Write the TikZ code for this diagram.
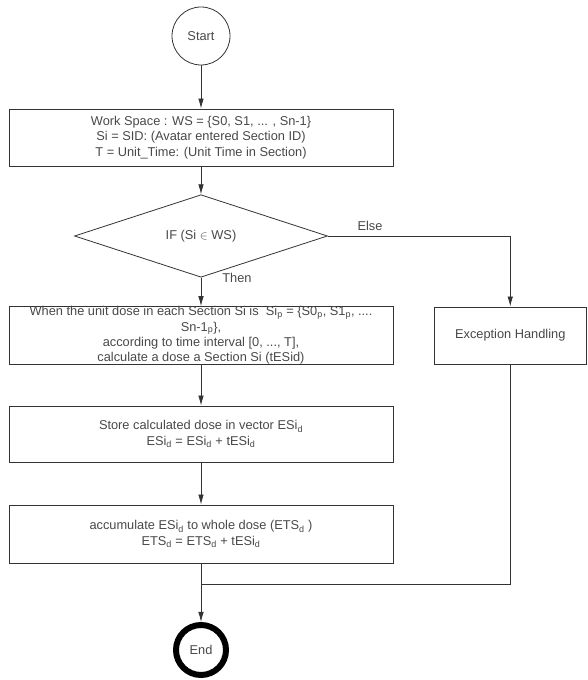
\documentclass[tikz,border=0pt]{standalone}
\usepackage{fontspec}
\setmainfont{Liberation Sans}
\usetikzlibrary{shapes.geometric}
\usetikzlibrary{arrows.meta}
\definecolor{txtgray}{HTML}{484848}
\definecolor{linegray}{HTML}{333333}
\newcommand{\dsub}{\textsubscript{d}}
\newcommand{\psub}{\textsubscript{p}}

\begin{document}
\begin{tikzpicture}[x=1pt,y=1pt,
    font=\fontsize{12.8}{15.3}\selectfont,
    every node/.style={text=txtgray},
    box/.style={draw=linegray, line width=0.8pt, rectangle, minimum width=384pt, minimum height=57pt, inner sep=0pt, align=center},
    flow/.style={draw=linegray, line width=0.8pt, -{Latex[length=10pt,width=5.5pt]}},
    link/.style={draw=linegray, line width=0.8pt}]
            \useasboundingbox (0,0) rectangle (587,680);

            % Start
            \node[circle, draw=linegray, line width=0.8pt, minimum size=58pt, inner sep=0pt] (start) at (201,644) {Start};

            % Work space
            \node[box] (ws) at (201,542.5) {Work Space : WS = \{S0, S1, ... , Sn-1\}\\
                Si = SID: (Avatar entered Section ID)\\
                T = Unit\_Time: (Unit Time in Section)};

            % Condition
            \node[diamond, draw=linegray, line width=0.8pt, minimum width=253pt, minimum height=58pt, inner sep=0pt] (cond) at (201,444) {IF (Si $\in$ WS)};

            % Dose per section
            \node[box] (dose) at (201,344.5) {When the unit dose in each Section Si is~ Si\psub{} = \{S0\psub, S1\psub, ....\\
                Sn-1\psub\},\\
                according to time interval [0, ..., T],\\
                calculate a dose a Section Si (tESid)};

            % Exception
            \node[box, minimum width=152.5pt] (exc) at (510.25,344.5) {Exception Handling};

            % Store
            \node[box, minimum height=56pt] (store) at (201,246) {Store calculated dose in vector ESi\dsub\\
                ESi\dsub{} = ESi\dsub{} + tESi\dsub};

            % Accumulate
            \node[box, minimum height=58pt] (accum) at (201,146) {accumulate ESi\dsub{} to whole dose (ETS\dsub{} )\\
                ETS\dsub{} = ETS\dsub{} + tESi\dsub};

            % End
            \node[circle, draw=black, line width=6pt, minimum size=50pt, inner sep=0pt] (end) at (201,30) {End};

            \coordinate (merge) at (201,96);

            % Connectors
            \draw[flow] (start) -- (ws);
            \draw[flow] (ws) -- (cond);
            \draw[flow] (cond) -- (dose);
            \draw[flow] (cond.east) -| (exc.north);
            \draw[flow] (dose) -- (store);
            \draw[flow] (store) -- (accum);
            \draw[flow] (accum) -- (end);
            \draw[link] (exc.south) |- (merge);

            % Labels
            \node (else) at (370,454) {Else};
            \node (then) at (237,402) {Then};

        \end{tikzpicture}
\end{document}
